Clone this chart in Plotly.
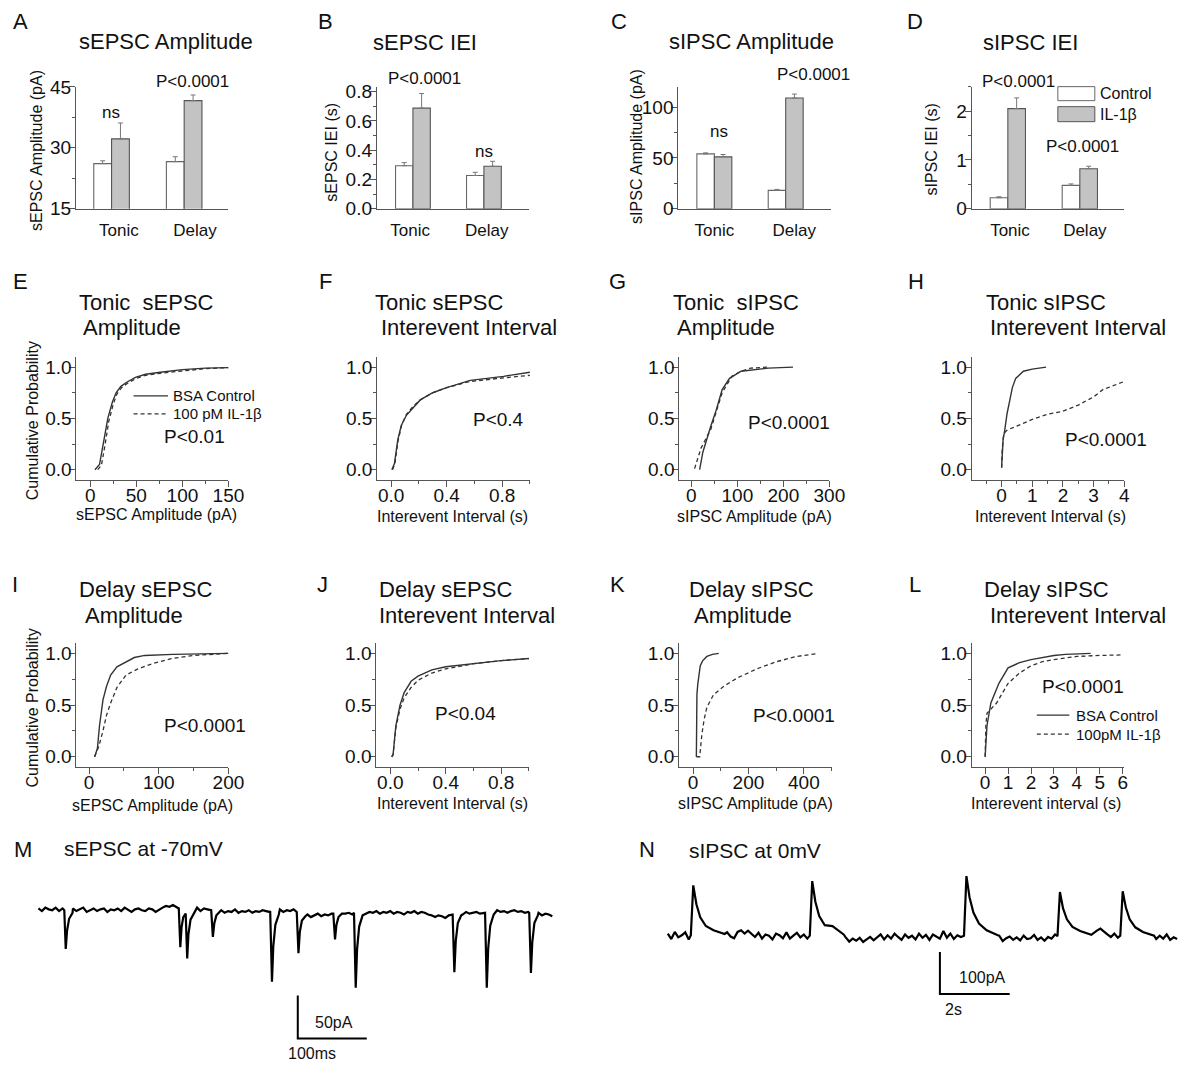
import plotly.graph_objects as go

# ---------------- data ----------------
categories = ["Tonic", "Delay"]
groups = ["Control", "IL-1β"]

a_ctrl = [26.1, 26.6]; a_ctrl_err = [0.7, 1.2]
a_il = [32.2, 41.6];   a_il_err = [3.9, 1.4]
b_ctrl = [0.294, 0.227]; b_ctrl_err = [0.021, 0.022]
b_il = [0.687, 0.29];    b_il_err = [0.10, 0.034]
c_ctrl = [53.9, 18.0];  c_ctrl_err = [1.0, 1.0]
c_il = [51.0, 108.8];   c_il_err = [2.3, 3.9]
d_ctrl = [0.225, 0.478]; d_ctrl_err = [0.02, 0.03]
d_il = [2.05, 0.82];     d_il_err = [0.22, 0.05]

e_ctrl_x = [5, 10, 14, 19, 24, 28, 33, 39, 49, 60, 76, 100, 125, 150]
e_ctrl_y = [0, 0.05, 0.25, 0.5, 0.66, 0.75, 0.81, 0.85, 0.9, 0.93, 0.95, 0.975, 0.99, 0.995]
e_il_x = [8, 12, 16, 20, 25, 29, 34, 40, 50, 60, 76, 100, 125, 150]
e_il_y = [0, 0.04, 0.24, 0.47, 0.64, 0.74, 0.8, 0.84, 0.89, 0.92, 0.94, 0.965, 0.985, 0.995]

f_ctrl_x = [0.005, 0.024, 0.048, 0.073, 0.11, 0.16, 0.21, 0.3, 0.4, 0.57, 0.81, 1.0]
f_ctrl_y = [0, 0.06, 0.29, 0.43, 0.53, 0.61, 0.68, 0.75, 0.8, 0.87, 0.91, 0.95]
f_il_x = [0.01, 0.026, 0.05, 0.075, 0.11, 0.16, 0.21, 0.3, 0.4, 0.57, 0.81, 1.0]
f_il_y = [0, 0.05, 0.28, 0.43, 0.54, 0.62, 0.68, 0.75, 0.8, 0.86, 0.895, 0.92]

g_ctrl_x = [18, 25, 42, 54, 67, 83, 108, 133, 167, 221]
g_ctrl_y = [0, 0.17, 0.42, 0.58, 0.78, 0.89, 0.96, 0.97, 0.99, 1.0]
g_il_x = [7, 21, 42, 54, 67, 88, 108, 129, 167]
g_il_y = [0.01, 0.21, 0.39, 0.57, 0.75, 0.91, 0.96, 0.99, 1.0]

h_ctrl_x = [0, 0.02, 0.05, 0.09, 0.18, 0.27, 0.35, 0.46, 0.6, 0.71, 1.0, 1.2, 1.45]
h_ctrl_y = [0.02, 0.2, 0.3, 0.36, 0.55, 0.68, 0.8, 0.89, 0.93, 0.96, 0.98, 0.99, 1.0]
h_il_x = [0, 0.02, 0.06, 0.12, 0.2, 0.46, 1.0, 1.5, 2.0, 2.5, 3.0, 3.3, 4.0]
h_il_y = [0.02, 0.2, 0.32, 0.37, 0.39, 0.42, 0.49, 0.54, 0.57, 0.63, 0.71, 0.78, 0.86]

i_ctrl_x = [8, 12, 15, 18, 20, 25, 31, 40, 53, 65, 80, 120, 200]
i_ctrl_y = [0, 0.08, 0.3, 0.45, 0.55, 0.68, 0.79, 0.87, 0.92, 0.96, 0.98, 0.99, 1.0]
i_il_x = [8, 14, 20, 25, 31, 40, 53, 70, 91, 118, 150, 200]
i_il_y = [0, 0.1, 0.25, 0.4, 0.52, 0.67, 0.79, 0.85, 0.9, 0.95, 0.98, 1.0]

j_ctrl_x = [0.01, 0.02, 0.04, 0.07, 0.1, 0.15, 0.2, 0.3, 0.4, 0.6, 0.8, 1.0]
j_ctrl_y = [0, 0.02, 0.3, 0.5, 0.62, 0.73, 0.78, 0.84, 0.87, 0.9, 0.93, 0.95]
j_il_x = [0.01, 0.02, 0.04, 0.07, 0.1, 0.15, 0.2, 0.3, 0.4, 0.6, 0.8, 1.0]
j_il_y = [0, 0.02, 0.28, 0.46, 0.57, 0.67, 0.74, 0.81, 0.85, 0.9, 0.93, 0.95]

k_ctrl_x = [12, 12.5, 14, 17, 22, 26, 35, 50, 70, 93]
k_ctrl_y = [0, 0.3, 0.6, 0.7, 0.8, 0.88, 0.93, 0.97, 0.99, 1.0]
k_il_x = [12, 24, 32, 40, 50, 74, 110, 158, 230, 302, 374, 452]
k_il_y = [0, 0.0, 0.22, 0.36, 0.48, 0.6, 0.68, 0.76, 0.85, 0.92, 0.97, 1.0]

l_ctrl_x = [0, 0.04, 0.08, 0.25, 0.6, 1.0, 1.5, 2.0, 2.5, 3.0, 3.5, 4.0, 4.6]
l_ctrl_y = [0, 0.2, 0.3, 0.52, 0.71, 0.86, 0.91, 0.94, 0.96, 0.98, 0.99, 0.995, 1.0]
l_il_x = [0, 0.03, 0.08, 0.5, 1.0, 1.5, 2.0, 2.5, 3.0, 4.0, 5.0, 6.0]
l_il_y = [0, 0.3, 0.42, 0.52, 0.71, 0.81, 0.88, 0.92, 0.94, 0.97, 0.98, 0.985]

# sEPSC trace (ms, pA): baseline every 5 ms + event points
m_base_i = [2, -1, 3, 1, 0, 3, -1, 2, 0, 1,
            2, -1, 1, 3, -2, 0, 2, -1, 1, 2,
            -2, 1, 0, 2, -1, 3, 0, -2, 1, 2,
            0, -1, 2, 1, -2, 1, 3, 5, 4, 6,
            3, 2, 0, 1, 2, 0, 3, -1, 2, 1,
            0, 1, -2, 0, -3, -1, -2, 1, -3, -1,
            -2, 0, -3, -1, -2, 0, -1, -2, 0, -1,
            1, -2, 0, -1, 1, -3, -5, -7, -5, -8,
            -6, -4, -7, -5, -6, -4, -3, -5, -2, -4,
            -3, -5, -2, -3, -1, -4, -2, -3, -1, -4,
            -2, -3, -1, -4, -2, -3, -5, -2, -3, -1,
            -4, -2, -3, -5, -6, -8, -6, -7, -9, -6,
            -5, -4, -3, -5, -2, -4, -3, -2, -4, -3,
            -2, -1, -3, 0, -2, -1, -3, -1, 0, -2,
            -1, -3, -2, -4, -5, -3, -6, -4, -5, -7]
m_base_t = [5 * k for k in range(len(m_base_i))]
m_events = [
    [(37.5, 0), (39.6, -45), (41.5, -24), (44.5, -10), (49.5, -3)],
    [(203.5, 2), (205.7, -43), (207.5, -20), (210.0, -8)],
    [(213.5, -4), (215.7, -56), (217.5, -28), (220.5, -11), (225.5, -3)],
    [(250.5, 0), (252.9, -31), (255.0, -15), (258.0, -6), (263.0, -2)],
    [(336.0, -1), (338.6, -83), (340.5, -42), (343.5, -17), (348.5, -5)],
    [(374.5, -2), (377.0, -50), (379.0, -25), (382.0, -12), (387.0, -7)],
    [(427.5, -4), (430.0, -34), (432.0, -17), (435.0, -8), (440.0, -4)],
    [(457.5, -3), (460.0, -90), (462.0, -45), (465.0, -19), (470.0, -6)],
    [(600.5, -5), (603.0, -72), (605.0, -36), (608.0, -15), (613.0, -6)],
    [(647.5, -3), (650.0, -90), (652.0, -45), (655.0, -18), (660.0, -5)],
    [(711.5, -3), (714.0, -73), (716.0, -37), (719.0, -15), (724.0, -6)],
]
m_scale_t = [376, 376, 476]      # 100 ms
m_scale_i = [-99, -149, -149]    # 50 pA

# sIPSC trace (s, pA): baseline every 0.1 s + event points
n_base_i = [6, -7, 10, -3, 2, 9, -8, 4, 0, 3,
            -6, 5, 8, -2, 7, -8, 3, 9, -1, -5,
            10, 14, 6, 13, 5, -2, 8, -6, 4, 1,
            -8, 6, 2, -5, 9, -6, 1, 8, -3, 4,
            -6, 5, 0, 3, 8, 18, 14, 9, 5, -4,
            -10, -3, -13, -6, -11, -4, -14, -8, -2, -10,
            -4, 4, -8, 2, -6, 6, -2, -9, 4, -4,
            1, -8, 6, -4, 3, -9, 4, -2, -6, 12,
            -4, 6, -7, 2, -2, 4, 0, 6, 2, -4,
            -8, 2, -11, -3, -9, 1, -12, -5, -1, -9,
            -3, -10, 1, -7, -5, 3, -9, -3, -11, -2,
            -6, 4, -8, 1, -4, -9, 2, -6, 1, -3,
            4, -5, 7, 13, 18, 10, 4, -2, 6, -4,
            1, -6, 4, -8, 3, -4, 6, -9, -2, 4,
            -7, 1, -6, 4, -9, -3, -7]
n_base_t = [round(0.1 * k, 1) for k in range(len(n_base_i))]
n_events = [
    [(0.66, 2), (0.73, 121), (0.82, 76), (0.93, 45), (1.09, 24), (1.31, 14), (1.63, 5)],
    [(4.07, 1), (4.14, 131), (4.23, 82), (4.34, 48), (4.5, 26), (4.72, 24), (5.04, 4)],
    [(8.49, 1), (8.56, 143), (8.65, 92), (8.76, 56), (8.92, 30), (9.14, 14), (9.46, 2)],
    [(11.17, 0), (11.24, 105), (11.33, 66), (11.44, 40), (11.6, 22), (11.82, 12), (12.14, 3)],
    [(12.97, 1), (13.04, 107), (13.13, 68), (13.24, 40), (13.4, 21), (13.62, 10), (13.94, 1)],
]
n_scale_t = [7.8, 7.8, 9.8]       # 2 s
n_scale_i = [-38, -138, -138]     # 100 pA

# ---------------- helpers ----------------
# page size; positions below are given in picture pixels and mapped to paper
W, H = 1216, 1086
SX, SY, OY = 0.987, 0.98, 10.4
FONT = "Liberation Sans, Arial, sans-serif"
AX = "#555555"
LN = "#333333"


def px(x):
    return (x / SX) / W


def py(y):
    return 1 - ((y - OY) / SY) / H


def build_trace(bt, bi, events):
    pts = []
    for t, v in zip(bt, bi):
        if not any(ev[0][0] <= t <= ev[-1][0] for ev in events):
            pts.append((t, v))
    for ev in events:
        pts.extend(ev)
    pts.sort()
    return [p[0] for p in pts], [p[1] for p in pts]


fig = go.Figure()
layout = dict(width=W, height=H, margin=dict(l=0, r=0, t=0, b=0),
              paper_bgcolor="white", plot_bgcolor="white", showlegend=False,
              font=dict(family=FONT, color="#111"))
annotations = []
shapes = []


def txt(x, y, s, size, xanchor="center", angle=0):
    annotations.append(dict(x=px(x), y=py(y), xref="paper", yref="paper", text=s,
                            showarrow=False, xanchor=xanchor, yanchor="middle",
                            textangle=angle, borderpad=0,
                            font=dict(size=size, family=FONT, color="#111")))


def base_axis():
    return dict(showline=True, linecolor=AX, linewidth=1.2, showgrid=False,
                zeroline=False, fixedrange=True, ticks="outside", ticklen=6,
                tickwidth=1.2, tickcolor=AX,
                tickfont=dict(size=19, family=FONT, color="#111"))


axis_n = [0]


def new_axes(box, xcfg, ycfg):
    axis_n[0] += 1
    n = axis_n[0]
    l, r, t, b = box
    xa = base_axis(); xa.update(xcfg)
    ya = base_axis(); ya.update(ycfg)
    xa.update(domain=[px(l), min(1.0, px(r))], anchor=f"y{n}")
    ya.update(domain=[max(0.0, py(b)), py(t)], anchor=f"x{n}")
    layout[f"xaxis{n}"] = xa
    layout[f"yaxis{n}"] = ya
    return f"x{n}", f"y{n}"


# ---------------- bar panels ----------------
bar_panels = [
    ((76, 228.5, 87, 209), [-0.49, 1.61], [0.1, 1.15], (a_ctrl, a_ctrl_err, a_il, a_il_err),
     dict(range=[15, 45.05], tick0=15, dtick=15, minor=7.5)),
    ((377, 529, 87, 209), [-0.507, 1.634], [-0.04, 1.04], (b_ctrl, b_ctrl_err, b_il, b_il_err),
     dict(range=[0, 0.834], tick0=0, dtick=0.2, minor=0.1, tickformat=".1f")),
    ((678.5, 831.5, 87, 209), [-0.504, 1.64], [0.0, 1.12], (c_ctrl, c_ctrl_err, c_il, c_il_err),
     dict(range=[0, 120], tick0=0, dtick=50, minor=25)),
    ((972, 1124.5, 87, 209), [-0.5, 1.618], [0.03, 1.07], (d_ctrl, d_ctrl_err, d_il, d_il_err),
     dict(range=[0, 2.5], tick0=0, dtick=1, minor=0.5)),
]
cat_pos = list(range(len(categories)))
for box, xrng, lblpos, (cv, ce, iv, ie), yc in bar_panels:
    mn = yc.pop("minor")
    ycfg = dict(yc)
    ycfg["ticklabelstandoff"] = -6
    ycfg["minor"] = dict(dtick=mn, tick0=yc["tick0"], ticks="outside", ticklen=3,
                         tickwidth=1, tickcolor=AX, showgrid=False)
    xcfg = dict(range=xrng, tickmode="array", tickvals=lblpos, ticktext=categories,
                ticks="", tickfont=dict(size=17, family=FONT, color="#111"),
                ticklabelstandoff=6)
    xr, yr = new_axes(box, xcfg, ycfg)
    fig.add_trace(go.Bar(x=cat_pos, y=cv, width=0.245, offset=-0.245, xaxis=xr, yaxis=yr,
                         name=groups[0],
                         marker=dict(color="white", line=dict(color="#666", width=1.1)),
                         error_y=dict(type="data", array=ce, arrayminus=[0] * len(ce),
                                      symmetric=False, color="#777", thickness=1, width=2.5)))
    fig.add_trace(go.Bar(x=cat_pos, y=iv, width=0.245, offset=0, xaxis=xr, yaxis=yr,
                         name=groups[1],
                         marker=dict(color="#c3c3c3", line=dict(color="#555", width=1.1)),
                         error_y=dict(type="data", array=ie, arrayminus=[0] * len(ie),
                                      symmetric=False, color="#777", thickness=1, width=2.5)))

# ---------------- CDF panels ----------------
cdf_y = dict(range=[-0.1, 1.1], tickmode="array", tickvals=[0, 0.5, 1.0],
             ticktext=["0.0", "0.5", "1.0"], ticklabelstandoff=-6,
             minor=dict(dtick=0.25, tick0=0, ticks="outside", ticklen=3, tickwidth=1,
                        tickcolor=AX, showgrid=False))


def minor(d, t0=0):
    return dict(dtick=d, tick0=t0, ticks="outside", ticklen=3, tickwidth=1,
                tickcolor=AX, showgrid=False)


cdf_panels = [
    ((76.5, 228.5, 357, 480), (e_ctrl_x, e_ctrl_y, e_il_x, e_il_y),
     dict(range=[-15, 150], tick0=0, dtick=50, minor=minor(25))),
    ((377.3, 530, 357, 480), (f_ctrl_x, f_ctrl_y, f_il_x, f_il_y),
     dict(range=[-0.1, 1.0], tick0=0, dtick=0.4, tickformat=".1f", minor=minor(0.2))),
    ((679.5, 829.5, 357, 480), (g_ctrl_x, g_ctrl_y, g_il_x, g_il_y),
     dict(range=[-26, 300], tick0=0, dtick=100, minor=minor(50))),
    ((972, 1124.5, 357, 480), (h_ctrl_x, h_ctrl_y, h_il_x, h_il_y),
     dict(range=[-0.97, 4], tickmode="array", tickvals=[0, 1, 2, 3, 4], minor=minor(0.5))),
    ((76.5, 228.5, 643, 767), (i_ctrl_x, i_ctrl_y, i_il_x, i_il_y),
     dict(range=[-18, 200], tick0=0, dtick=100, minor=minor(50))),
    ((376.5, 529, 643, 767), (j_ctrl_x, j_ctrl_y, j_il_x, j_il_y),
     dict(range=[-0.1, 1.0], tick0=0, dtick=0.4, tickformat=".1f", minor=minor(0.2))),
    ((679.3, 831.7, 643, 767), (k_ctrl_x, k_ctrl_y, k_il_x, k_il_y),
     dict(range=[-50, 500], tick0=0, dtick=200, minor=minor(100))),
    ((972, 1124.5, 643, 767), (l_ctrl_x, l_ctrl_y, l_il_x, l_il_y),
     dict(range=[-0.58, 6.07], tickmode="array", tickvals=[0, 1, 2, 3, 4, 5, 6])),
]
for box, (cx, cy, ix, iy), xcfg in cdf_panels:
    xcfg = dict(xcfg)
    xcfg["ticklabelstandoff"] = -8
    xr, yr = new_axes(box, xcfg, dict(cdf_y))
    fig.add_trace(go.Scatter(x=cx, y=cy, mode="lines", xaxis=xr, yaxis=yr,
                             line=dict(color=LN, width=1.4)))
    fig.add_trace(go.Scatter(x=ix, y=iy, mode="lines", xaxis=xr, yaxis=yr,
                             line=dict(color=LN, width=1.3, dash="4px,3px")))

# ---------------- traces ----------------
mt, mi = build_trace(m_base_t, m_base_i, m_events)
xr, yr = new_axes((20, 580, 870, 1070),
                  dict(range=[-26.7, 785], visible=False),
                  dict(range=[-186, 46.5], visible=False))
fig.add_trace(go.Scatter(x=mt, y=mi, mode="lines", xaxis=xr, yaxis=yr,
                         line=dict(color="black", width=2.2)))
fig.add_trace(go.Scatter(x=m_scale_t, y=m_scale_i, mode="lines", xaxis=xr, yaxis=yr,
                         line=dict(color="black", width=2)))
annotations.append(dict(x=398, y=-131, xref=xr, yref=yr, text="50pA", showarrow=False,
                        xanchor="left", yanchor="middle",
                        font=dict(size=16, family=FONT, color="#111")))
annotations.append(dict(x=397, y=-166, xref=xr, yref=yr, text="100ms", showarrow=False,
                        xanchor="center", yanchor="middle",
                        font=dict(size=16, family=FONT, color="#111")))

nt, ni = build_trace(n_base_t, n_base_i, n_events)
xr, yr = new_axes((640, 1200, 860, 1075),
                  dict(range=[-0.8, 15.25], visible=False),
                  dict(range=[-331, 181], visible=False))
fig.add_trace(go.Scatter(x=nt, y=ni, mode="lines", xaxis=xr, yaxis=yr,
                         line=dict(color="black", width=2.2)))
fig.add_trace(go.Scatter(x=n_scale_t, y=n_scale_i, mode="lines", xaxis=xr, yaxis=yr,
                         line=dict(color="black", width=2)))
annotations.append(dict(x=8.28, y=-98, xref=xr, yref=yr, text="100pA", showarrow=False,
                        xanchor="left", yanchor="middle",
                        font=dict(size=16, family=FONT, color="#111")))
annotations.append(dict(x=7.9, y=-176, xref=xr, yref=yr, text="2s", showarrow=False,
                        xanchor="left", yanchor="middle",
                        font=dict(size=16, family=FONT, color="#111")))

# ---------------- texts ----------------
LET = 22
TIT = 22
# panel letters
for s, x, y in [("A", 20.5, 22), ("B", 325.5, 22), ("C", 619, 22), ("D", 915.5, 22),
                ("E", 21, 282), ("F", 325.5, 282), ("G", 618, 282), ("H", 916.5, 282),
                ("I", 15, 585), ("J", 322.5, 585), ("K", 618, 585), ("L", 915, 585),
                ("M", 23.5, 849), ("N", 647.5, 849)]:
    txt(x, y, s, LET)

# titles
txt(166, 42, "sEPSC Amplitude", TIT)
txt(425.5, 43, "sEPSC IEI", TIT)
txt(751.7, 42, "sIPSC Amplitude", TIT)
txt(1031, 43, "sIPSC IEI", TIT)
for l1, l2, x1, x2, y1, y2 in [
        ("Tonic  sEPSC", "Amplitude", 78, 82, 303, 328),
        ("Tonic sEPSC", "Interevent Interval", 374, 380, 303, 328),
        ("Tonic  sIPSC", "Amplitude", 672.5, 676.3, 303, 328),
        ("Tonic sIPSC", "Interevent Interval", 985.5, 989.3, 303, 328),
        ("Delay sEPSC", "Amplitude", 78, 84, 590, 615),
        ("Delay sEPSC", "Interevent Interval", 378, 378, 590, 615),
        ("Delay sIPSC", "Amplitude", 687.8, 693.5, 590, 615),
        ("Delay sIPSC", "Interevent Interval", 983.6, 989.3, 590, 615)]:
    txt(x1, y1, l1, TIT, xanchor="left")
    txt(x2, y2, l2, TIT, xanchor="left")
txt(63, 848, "sEPSC at -70mV", 21, xanchor="left")
txt(687.8, 850, "sIPSC at 0mV", 21, xanchor="left")

# axis titles
AT = 16
txt(36.3, 151, "sEPSC Amplitude (pA)", AT, angle=-90)
txt(332, 152, "sEPSC IEI (s)", AT, angle=-90)
txt(636.3, 147, "sIPSC Amplitude (pA)", AT, angle=-90)
txt(932, 150, "sIPSC IEI (s)", AT, angle=-90)
txt(32.4, 421, "Cumulative Probability", AT, angle=-90)
txt(32.4, 708, "Cumulative Probability", AT, angle=-90)
txt(156.5, 515, "sEPSC Amplitude (pA)", AT)
txt(453, 517, "Interevent Interval (s)", AT)
txt(754.6, 517, "sIPSC Amplitude (pA)", AT)
txt(1050.4, 517, "Interevent Interval (s)", AT)
txt(152.7, 805, "sEPSC Amplitude (pA)", AT)
txt(453, 803, "Interevent Interval (s)", AT)
txt(756, 803, "sIPSC Amplitude (pA)", AT)
txt(1046.6, 803, "Interevent interval (s)", AT)

# statistics labels
BS = 17
txt(111.5, 113, "ns", BS); txt(192.7, 82, "P&lt;0.0001", BS)
txt(425, 79, "P&lt;0.0001", BS); txt(483.6, 152, "ns", BS)
txt(719.5, 132, "ns", BS); txt(813.7, 75, "P&lt;0.0001", BS)
txt(1019, 82, "P&lt;0.0001", BS); txt(1082.8, 147, "P&lt;0.0001", BS)
PS = 19
txt(194.7, 437, "P&lt;0.01", PS)
txt(499, 420, "P&lt;0.4", PS)
txt(789, 423, "P&lt;0.0001", PS)
txt(1105.7, 440, "P&lt;0.0001", PS)
txt(205, 725, "P&lt;0.0001", PS)
txt(465.6, 713, "P&lt;0.04", PS)
txt(794, 715, "P&lt;0.0001", PS)
txt(1083.6, 686, "P&lt;0.0001", PS)

# legends
LS = 16
shapes.append(dict(type="rect", xref="paper", yref="paper", x0=px(1058), x1=px(1095),
                   y0=py(101), y1=py(87), fillcolor="white", line=dict(color="#666", width=1)))
shapes.append(dict(type="rect", xref="paper", yref="paper", x0=px(1058), x1=px(1095),
                   y0=py(122), y1=py(107), fillcolor="#c3c3c3", line=dict(color="#555", width=1)))
txt(1099, 94, groups[0], LS, xanchor="left")
txt(1099, 115, groups[1], LS, xanchor="left")

for (x0, x1, ya, yb, tx, t1, t2) in [(133.6, 168, 396, 414, 172.5, "BSA Control", "100 pM IL-1β"),
                                     (1037, 1069.5, 715, 734, 1075, "BSA Control", "100pM IL-1β")]:
    shapes.append(dict(type="line", xref="paper", yref="paper", x0=px(x0), x1=px(x1),
                       y0=py(ya), y1=py(ya), line=dict(color=LN, width=1.4)))
    shapes.append(dict(type="line", xref="paper", yref="paper", x0=px(x0), x1=px(x1),
                       y0=py(yb), y1=py(yb), line=dict(color=LN, width=1.3, dash="4px,3px")))
    txt(tx, ya, t1, 15, xanchor="left")
    txt(tx, yb, t2, 15, xanchor="left")

layout["annotations"] = annotations
layout["shapes"] = shapes
layout["barmode"] = "overlay"
fig.update_layout(**layout)
fig.write_html("out.html", config={"displayModeBar": False},
               post_script="var d=document.getElementById('{plot_id}');"
                           "d.style.position='fixed';d.style.left='0px';d.style.top='0px';"
                           "document.body.style.margin='0px';"
                           "document.body.style.overflow='hidden';")
